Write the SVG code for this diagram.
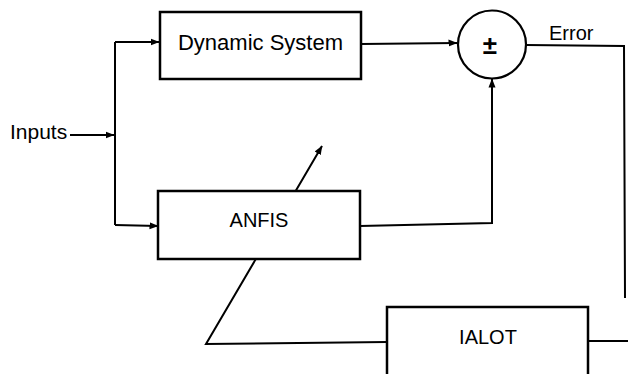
<svg xmlns="http://www.w3.org/2000/svg" width="628" height="374" viewBox="0 0 628 374">
<style>
.box{fill:#fff;stroke:#000;stroke-width:2.5}
.ln{fill:none;stroke:#000;stroke-width:2;stroke-linejoin:miter}
.arr{marker-end:url(#ah)}
.t{font-family:"Liberation Sans",Arial,sans-serif;font-size:20px;fill:#000}
</style>
<defs>
<marker id="ah" markerUnits="userSpaceOnUse" markerWidth="9" markerHeight="8" refX="8.5" refY="4" orient="auto">
<path d="M0,0.5 L9,4 L0,7.5 z" fill="#000"/>
</marker>
</defs>
<rect width="628" height="374" fill="#fff"/>
<g id="connectors">
<line class="ln arr" x1="70" y1="135" x2="114" y2="135"/>
<polyline class="ln" points="115,225 115,42"/>
<line class="ln arr" x1="115" y1="42" x2="159" y2="42"/>
<line class="ln arr" x1="115" y1="225" x2="158" y2="226"/>
<line class="ln arr" x1="361" y1="44" x2="457" y2="43"/>
<polyline class="ln arr" points="360,226 492,223 492,79"/>
<polyline class="ln" points="526,45 624,46 625,298"/>
<line class="ln" x1="588" y1="341" x2="628" y2="341"/>
<polyline class="ln arr" points="387,342 206,344 322,146"/>
</g>
<g id="dynamic-system">
<rect class="box" x="160" y="12" width="201" height="67"/>
<text class="t" x="260.5" y="50" text-anchor="middle" style="font-size:22px">Dynamic System</text>
</g>
<g id="anfis">
<rect class="box" x="158" y="191" width="202" height="68"/>
<text class="t" x="259" y="227" text-anchor="middle">ANFIS</text>
</g>
<g id="sum">
<circle class="box" cx="492" cy="44.5" r="34" style="stroke-width:2.2"/>
<text class="t" x="490" y="54" text-anchor="middle" style="font-weight:bold;font-size:26px">±</text>
</g>
<g id="ialot">
<rect class="box" x="387" y="307" width="201" height="80"/>
<text class="t" x="488" y="344" text-anchor="middle">IALOT</text>
</g>
<g id="inputs">
<text class="t" x="10" y="139" style="font-size:21px">Inputs</text>
</g>
<g id="error">
<text class="t" x="549" y="40">Error</text>
</g>
</svg>
